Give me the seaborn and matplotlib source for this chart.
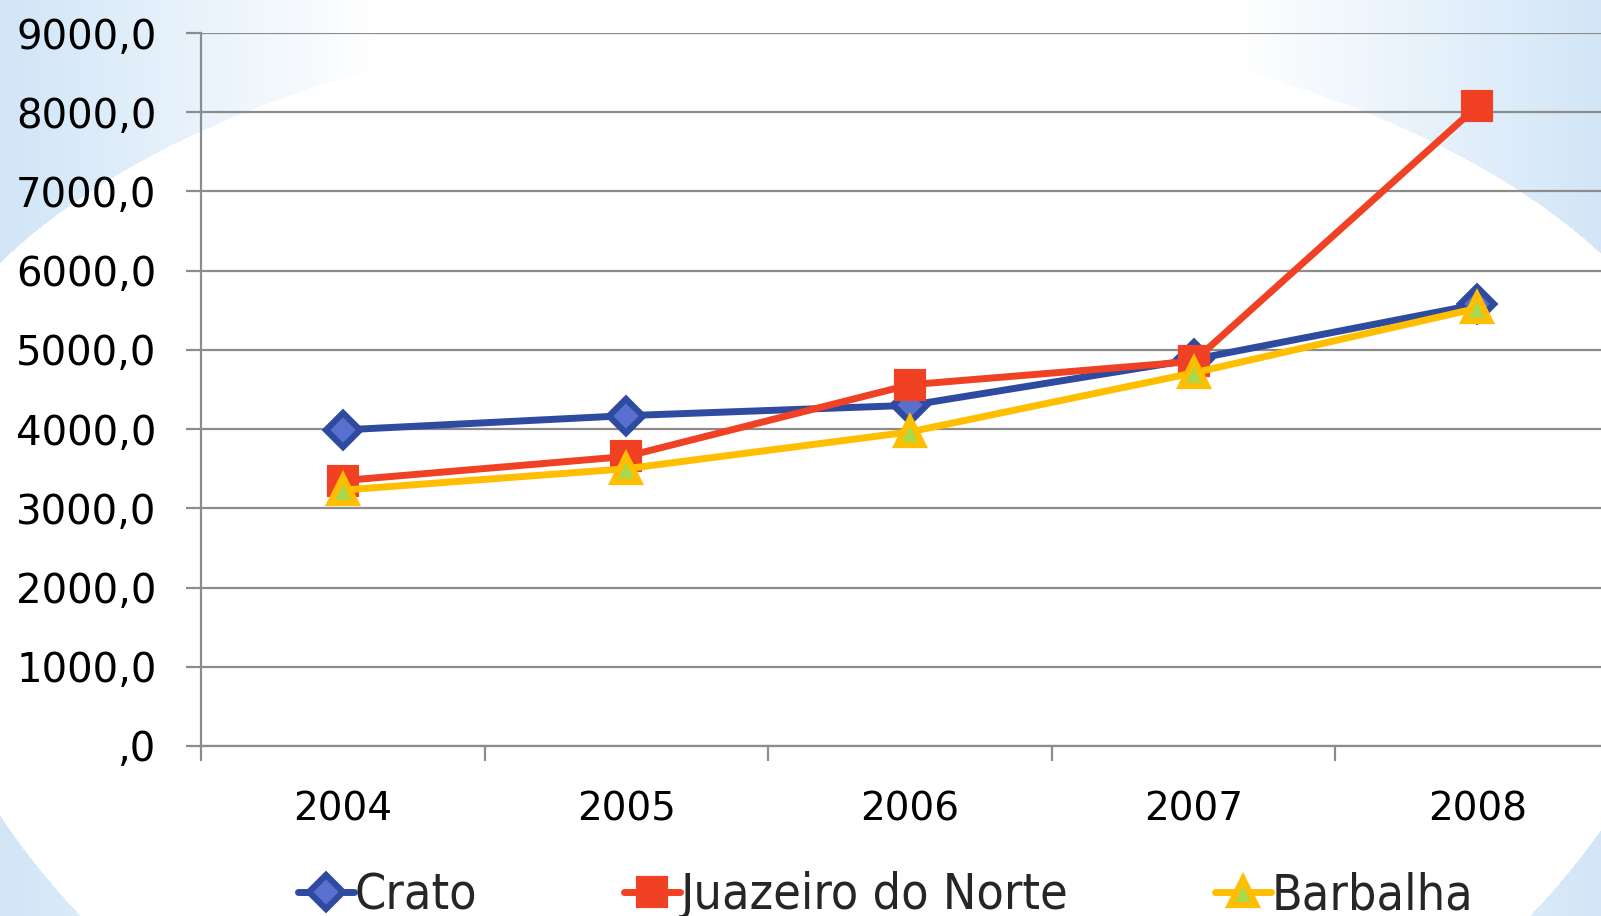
import numpy as np
import pandas as pd
import matplotlib
matplotlib.use("Agg")
import matplotlib.pyplot as plt
from matplotlib.ticker import FuncFormatter, FixedLocator
import seaborn as sns

years = ["2004", "2005", "2006", "2007", "2008"]
crato = [3990, 4170, 4300, 4880, 5575]
juazeiro = [3350, 3655, 4560, 4855, 8075]
barbalha = [3230, 3500, 3965, 4710, 5525]
series_names = ["Crato", "Juazeiro do Norte", "Barbalha"]

df = pd.DataFrame({
    "ano": years * 3,
    "valor": crato + juazeiro + barbalha,
    "cidade": [n for n in series_names for _ in years],
})

styles = {
    "Crato": dict(color="#2f4b9f", marker="D", ms=17, mfc="#5a70cf", mec="#2f4b9f", mew=4.5),
    "Juazeiro do Norte": dict(color="#f04124", marker="s", ms=20, mfc="#f04124", mec="#f04124", mew=3),
    "Barbalha": dict(color="#ffbf00", marker="^", ms=19, mfc="#a9d84b", mec="#ffbf00", mew=4.5),
}

sns.set_theme(style="white")
plt.rcParams["font.family"] = ["DejaVu Sans"]

W, H = 1601, 916
fig = plt.figure(figsize=(W / 100, H / 100), dpi=100)

# slide background: light blue corners fading to white, white ellipse in the middle
bg = fig.add_axes([0, 0, 1, 1])
xx, yy = np.meshgrid(np.arange(W), np.arange(H))
cx, cy = 805, 480
b = np.where(yy < cy, 467, 720)
inside = ((xx - cx) / 910.0) ** 2 + ((yy - cy) / b) ** 2 <= 1
t = np.clip((np.abs(xx - cx) - 430) / 370.0, 0, 1)
t = np.where(inside, 0, t)
blue = np.array([0.82, 0.90, 0.97])
img = 1 - t[..., None] * (1 - blue)
bg.imshow(img, aspect="auto", extent=[0, W, H, 0])
bg.axis("off")

ax = fig.add_axes([201 / W, 1 - 746 / H, (1619 - 201) / W, (746 - 33) / H])
ax.set_facecolor("none")

handles = []
for name in series_names:
    st = styles[name]
    sub = df[df["cidade"] == name]
    sns.lineplot(data=sub, x="ano", y="valor", ax=ax, color=st["color"], lw=5,
                 marker=st["marker"], markersize=st["ms"], markerfacecolor=st["mfc"],
                 markeredgecolor=st["mec"], markeredgewidth=st["mew"], sort=False,
                 legend=False, solid_joinstyle="round")
    handles.append(ax.lines[-1])

ax.set_xlim(-0.5, 4.5)
ax.set_ylim(0, 9000)
ax.set_yticks(np.arange(0, 9001, 1000))
ax.yaxis.set_major_formatter(FuncFormatter(
    lambda v, p: (",0" if v == 0 else f"{v:.1f}".replace(".", ","))))
ax.xaxis.set_minor_locator(FixedLocator(np.arange(-0.5, 4.6, 1)))
ax.grid(axis="y", color="#8c8c8c", lw=1.6)
ax.grid(axis="x", visible=False)
for s in ["top", "right"]:
    ax.spines[s].set_visible(False)
for s in ["left", "bottom"]:
    ax.spines[s].set_color("#8c8c8c")
    ax.spines[s].set_linewidth(1.6)
ax.tick_params(axis="y", which="major", left=True, length=11, width=1.6,
               color="#8c8c8c", pad=21, labelsize=29, labelcolor="black")
ax.tick_params(axis="x", which="major", bottom=False, length=0, pad=32,
               labelsize=28, labelcolor="black")
ax.tick_params(axis="x", which="minor", bottom=True, length=11, width=1.6,
               color="#8c8c8c")
ax.set_xlabel("")
ax.set_ylabel("")

leg = fig.legend(handles, series_names, loc="center left",
                 bbox_to_anchor=(298 / W, 1 - 895 / H), ncol=3, frameon=False,
                 handlelength=1.12, handletextpad=0.0,
                 columnspacing=2.95, borderpad=0, borderaxespad=0,
                 prop=dict(size=36, stretch="condensed"))

fig.savefig("out.png", dpi=100)
